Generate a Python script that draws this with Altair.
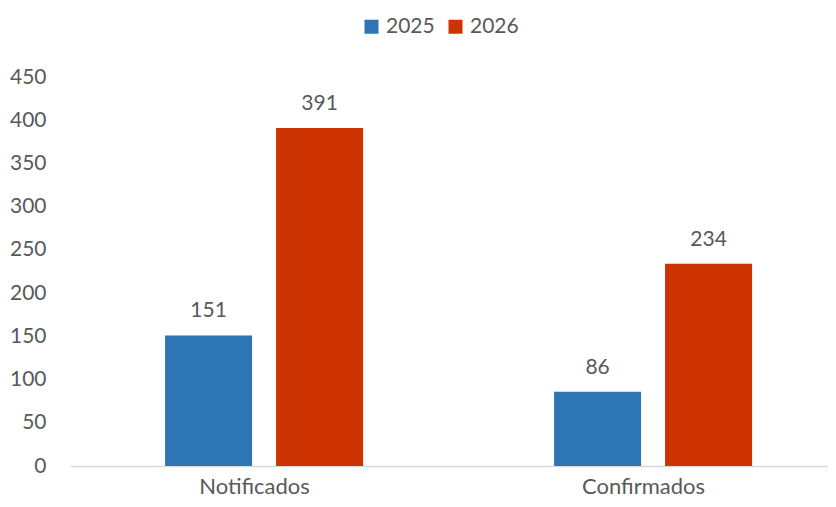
import altair as alt
import pandas as pd

categories = ["Notificados", "Confirmados"]
years = ["2025", "2026"]
values_2025 = [151, 86]
values_2026 = [391, 234]
colors = ["#2E75B6", "#CC3300"]
y_ticks = [0, 50, 100, 150, 200, 250, 300, 350, 400, 450]

rows = []
for i, c in enumerate(categories):
    rows.append({"cat": c, "year": years[0], "value": values_2025[i]})
    rows.append({"cat": c, "year": years[1], "value": values_2026[i]})
df = pd.DataFrame(rows)

FONT = "Lato"
GRAY = "#595959"
FS = 21

x = alt.X("cat:N", sort=categories, title=None,
          scale=alt.Scale(paddingInner=0.0514, paddingOuter=0),
          axis=alt.Axis(labelAngle=0, ticks=False, domainColor="#D9D9D9", domainWidth=1.3,
                        labelFontSize=22, labelColor=GRAY, labelFont=FONT,
                        labelBaseline="alphabetic", labelPadding=27))
xo = alt.XOffset("year:N", sort=years,
                 scale=alt.Scale(paddingInner=0.216, paddingOuter=0.770, align=0.556))
y = alt.Y("value:Q", title=None,
          scale=alt.Scale(domain=[0, 450], nice=False),
          axis=alt.Axis(values=y_ticks, grid=False, domain=False, ticks=False,
                        labelFontSize=FS, labelColor=GRAY, labelFont=FONT, labelPadding=24))

bars = alt.Chart(df).mark_bar().encode(
    x=x, xOffset=xo, y=y,
    color=alt.Color("year:N", sort=years, title=None,
                    scale=alt.Scale(domain=years, range=colors),
                    legend=alt.Legend(orient="none", legendX=291, legendY=-61, direction="horizontal",
                                      symbolType="square", symbolSize=196, symbolStrokeWidth=0,
                                      labelFontSize=FS, labelColor=GRAY, labelFont=FONT,
                                      labelOffset=4, columnPadding=10)),
)

labels = alt.Chart(df).mark_text(dy=-18, baseline="alphabetic", fontSize=FS, font=FONT, color=GRAY).encode(
    x=x, xOffset=xo, y=y, text="value:Q"
)

chart = alt.layer(bars, labels).properties(
    width=758, height=389,
    autosize=alt.AutoSizeParams(type="none"),
    padding={"left": 62, "top": 69, "right": 0, "bottom": 33},
).configure_view(stroke=None)

chart.save("out.html", embed_options={"renderer": "svg", "actions": False})
